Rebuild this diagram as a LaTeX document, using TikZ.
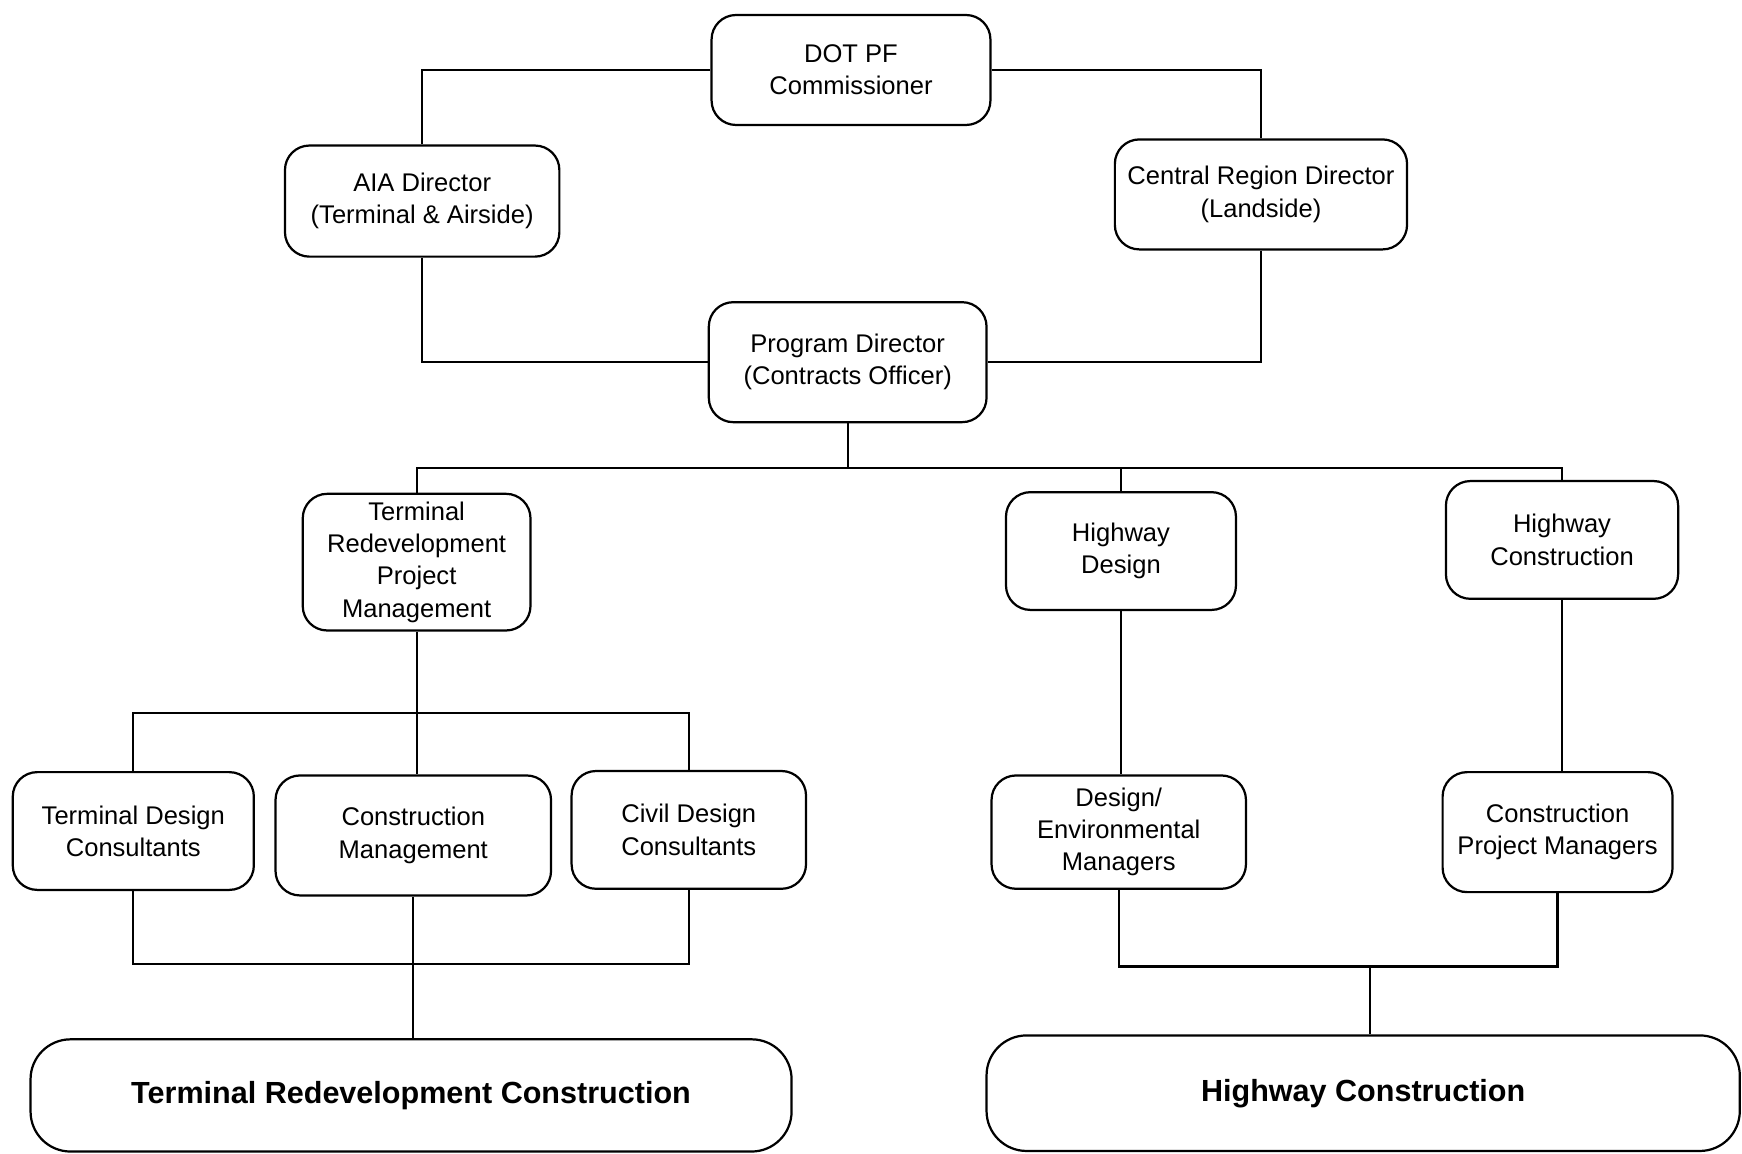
\documentclass[tikz,border=0pt]{standalone}
\usepackage{fontspec}
\setmainfont{Liberation Sans}
\begin{document}
\begin{tikzpicture}[x=1pt,y=-1pt,
  box/.style={draw, line width=2pt, rounded corners=22pt, align=center,
    font=\fontsize{23}{29}\selectfont, inner sep=0pt},
  bigbox/.style={draw, line width=2pt, rounded corners=36pt, align=center,
    font=\fontsize{27.5}{30}\selectfont\bfseries, inner sep=0pt},
  conn/.style={line width=2pt}]
\useasboundingbox (0,0) rectangle (1568,1038);
\fill[white] (0,0) rectangle (1568,1038);

\node[box, minimum width=251pt, minimum height=99pt] (dot) at (766,63) {DOT PF\\Commissioner};
\node[box, minimum width=247pt, minimum height=100pt] (aia) at (380,181) {AIA Director\\(Terminal \& Airside)};
\node[box, minimum width=263pt, minimum height=99pt] (crd) at (1135,175) {Central Region Director\\(Landside)};
\node[box, minimum width=250pt, minimum height=108pt] (pd) at (763,326) {Program Director\\(Contracts Officer)};
\node[box, minimum width=205pt, minimum height=123pt] (tpm) at (375,506) {Terminal\\Redevelopment\\Project\\Management};
\node[box, minimum width=207pt, minimum height=106pt] (hd) at (1009,496) {Highway\\Design};
\node[box, minimum width=209pt, minimum height=106pt] (hcons) at (1406,486) {Highway\\Construction};
\node[box, minimum width=217pt, minimum height=106pt] (tdc) at (120,748) {Terminal Design\\Consultants};
\node[box, minimum width=248pt, minimum height=108pt] (cm) at (372,752) {Construction\\Management};
\node[box, minimum width=211pt, minimum height=106pt] (cdc) at (620,747) {Civil Design\\Consultants};
\node[box, minimum width=229pt, minimum height=102pt] (dem) at (1007,749) {Design/\\Environmental\\Managers};
\node[box, minimum width=207pt, minimum height=108pt] (cpm) at (1402,749) {Construction\\Project Managers};
\node[bigbox, minimum width=685pt, minimum height=101pt] (trc) at (370,986) {\raisebox{-3pt}{Terminal Redevelopment Construction}};
\node[bigbox, minimum width=678pt, minimum height=104pt] (hwc) at (1227,984) {\raisebox{-3pt}{Highway Construction}};

\coordinate (bus1) at (763,421);
\coordinate (bus2) at (372,642);
\coordinate (bus3) at (370,868);
\coordinate (bus4) at (1233,870);

\draw[conn] (dot.west) -| (aia.north);
\draw[conn] (dot.east) -| (crd.north);
\draw[conn] (aia.south) |- (pd.west);
\draw[conn] (crd.south) |- (pd.east);
\draw[conn] (pd.south) -- (bus1);
\draw[conn] (tpm.north) -- (tpm.north |- bus1) -- (hcons.north |- bus1) -- (hcons.north);
\draw[conn] (hd.north) -- (hd.north |- bus1);
\draw[conn] (tpm.south) -- (tpm.south |- cm.north);
\draw[conn] (tdc.north) -- (tdc.north |- bus2) -- (cdc.north |- bus2) -- (cdc.north);
\draw[conn] (hd.south) -- (hd.south |- dem.north);
\draw[conn] (hcons.south) -- (hcons.south |- cpm.north);
\draw[conn] (tdc.south) -- (tdc.south |- bus3) -- (cdc.south |- bus3) -- (cdc.south);
\draw[conn] (cm.south) -- (cm.south |- trc.north);
\draw[conn] (dem.south) -- (dem.south |- bus4) -- (cpm.south |- bus4) -- (cpm.south);
\draw[conn] (bus4) -- (bus4 |- hwc.north);
\end{tikzpicture}
\end{document}
